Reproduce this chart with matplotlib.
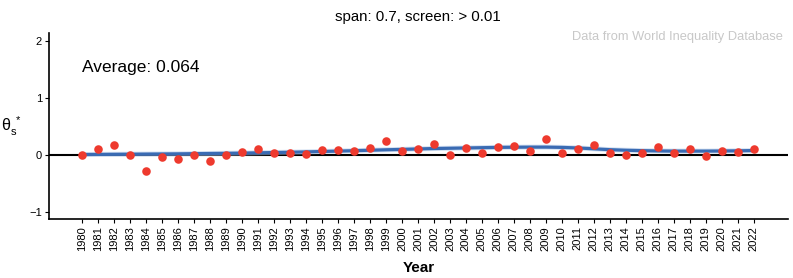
import numpy as np
import matplotlib.pyplot as plt

plt.rcParams['font.family'] = ['Liberation Sans', 'DejaVu Sans']

years = list(range(1980, 2023))
theta = [0.00, 0.10, 0.18, 0.01, -0.28, -0.04, -0.07, 0.00, -0.11, 0.00,
         0.05, 0.11, 0.04, 0.03, 0.02, 0.09, 0.09, 0.07, 0.13, 0.24,
         0.07, 0.10, 0.19, 0.00, 0.13, 0.03, 0.15, 0.16, 0.08, 0.28,
         0.04, 0.10, 0.18, 0.04, 0.00, 0.03, 0.15, 0.03, 0.10, -0.01,
         0.08, 0.06, 0.10]
# loess curve (span 0.7)
smooth = [0.010, 0.012, 0.014, 0.016, 0.018, 0.020, 0.022, 0.025, 0.028, 0.031,
          0.035, 0.040, 0.045, 0.050, 0.056, 0.063, 0.070, 0.077, 0.085, 0.093,
          0.100, 0.108, 0.115, 0.120, 0.125, 0.130, 0.135, 0.138, 0.140, 0.140,
          0.135, 0.125, 0.110, 0.095, 0.085, 0.078, 0.073, 0.070, 0.070, 0.070,
          0.072, 0.075, 0.080]
average = 0.064

pos = np.arange(len(years))

fig = plt.figure(figsize=(7.93, 2.78), dpi=100)
ax = fig.add_axes([49 / 793, 1 - 219 / 278, (788 - 49) / 793, (219 - 33) / 278])

ax.axhline(0, color='black', lw=1.5, zorder=1)
ax.plot(pos, smooth, color='#a9c3e6', lw=3.6, alpha=0.5, zorder=2)
ax.plot(pos, smooth, color='#3a6bb3', lw=2.3, zorder=2)
ax.scatter(pos, theta, s=38, color='#ee3a2e', zorder=3, linewidths=0)

ax.set_xlim(-2.06, len(years) + 1.13)
ax.set_ylim(-1.12, 2.14)
ax.set_yticks([-1, 0, 1, 2])
ax.set_yticklabels(['\u22121', '0', '1', '2'])
ax.set_xticks(pos)
ax.set_xticklabels([str(y) for y in years], rotation=90)
ax.tick_params(labelsize=8, color='black', length=3, width=0.8, pad=2)

for s in ['top', 'right']:
    ax.spines[s].set_visible(False)
for s in ['left', 'bottom']:
    ax.spines[s].set_linewidth(1.2)

ax.set_xlabel('Year', fontsize=11, fontweight='bold', labelpad=7)
ax.set_ylabel(r'$\mathregular{\theta_s^{\ *}}$', fontsize=11.5, rotation=0, labelpad=13, va='center')

ax.text(0.045, 0.815, f'Average: {average}', transform=ax.transAxes,
        fontsize=12.5, ha='left', va='center')
ax.text(0.993, 0.98, 'Data from World Inequality Database', transform=ax.transAxes,
        fontsize=9.3, color='#c8c8c8', ha='right', va='center')
fig.text(418 / 793, 1 - 17 / 278, 'span: 0.7, screen: > 0.01', fontsize=10.8,
         ha='center', va='center')

fig.savefig('out.png', dpi=100)
